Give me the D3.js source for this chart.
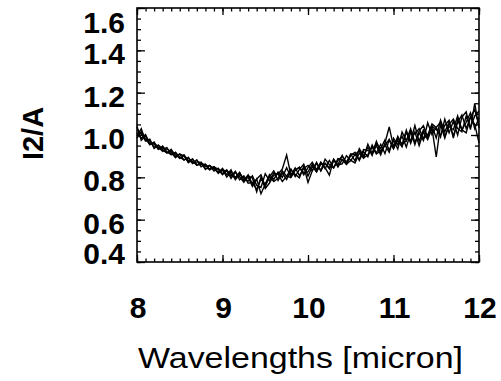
<!DOCTYPE html>
<html>
<head>
<meta charset="utf-8">
<script src="https://cdn.jsdelivr.net/npm/d3@7"></script>
<style>
  body { margin: 0; background: #fff; }
  svg { display: block; }
  .tick text { display: none; }
</style>
</head>
<body>
<div id="chart"></div>
<script>
// wavelength grid (micron)
var wavelengths = [8.00, 8.05, 8.10, 8.15, 8.20, 8.25, 8.30, 8.35, 8.40, 8.45, 8.50, 8.55, 8.60, 8.65, 8.70, 8.75, 8.80, 8.85, 8.90, 8.95,
  9.00, 9.05, 9.10, 9.15, 9.20, 9.25, 9.30, 9.35, 9.40, 9.45, 9.50, 9.55, 9.60, 9.65, 9.70, 9.75, 9.80, 9.85, 9.90, 9.95,
  10.00, 10.05, 10.10, 10.15, 10.20, 10.25, 10.30, 10.35, 10.40, 10.45, 10.50, 10.55, 10.60, 10.65, 10.70, 10.75, 10.80, 10.85, 10.90, 10.95,
  11.00, 11.05, 11.10, 11.15, 11.20, 11.25, 11.30, 11.35, 11.40, 11.45, 11.50, 11.55, 11.60, 11.65, 11.70, 11.75, 11.80, 11.85, 11.90, 11.95,
  12.00];

// I2/A spectra
var spectrumA = [1.030, 1.005, 0.972, 0.975, 0.942, 0.952, 0.933, 0.940, 0.907, 0.918, 0.890, 0.902, 0.869, 0.886, 0.858, 0.870, 0.852, 0.856, 0.830, 0.843,
  0.817, 0.836, 0.805, 0.829, 0.788, 0.807, 0.772, 0.777, 0.742, 0.792, 0.767, 0.813, 0.790, 0.825, 0.800, 0.845, 0.800, 0.834, 0.848, 0.812,
  0.846, 0.871, 0.836, 0.871, 0.841, 0.880, 0.845, 0.879, 0.899, 0.872, 0.910, 0.878, 0.935, 0.901, 0.942, 0.903, 0.960, 0.936, 0.977, 0.928,
  0.975, 0.934, 1.014, 0.973, 1.020, 0.955, 1.020, 1.044, 0.988, 1.042, 0.986, 1.070, 1.015, 1.060, 0.995, 1.060, 1.095, 1.030, 1.085, 1.120,
  1.043];
var spectrumB = [0.985, 1.015, 0.982, 0.955, 0.967, 0.932, 0.943, 0.915, 0.932, 0.898, 0.910, 0.882, 0.894, 0.866, 0.883, 0.850, 0.862, 0.836, 0.850, 0.818,
  0.837, 0.801, 0.825, 0.799, 0.823, 0.782, 0.802, 0.757, 0.792, 0.722, 0.767, 0.803, 0.830, 0.785, 0.820, 0.790, 0.835, 0.814, 0.798, 0.852,
  0.776, 0.831, 0.871, 0.831, 0.866, 0.845, 0.885, 0.849, 0.884, 0.862, 0.905, 0.918, 0.880, 0.921, 0.897, 0.953, 0.915, 0.956, 0.912, 0.978,
  0.935, 0.994, 0.954, 1.023, 0.960, 1.015, 0.950, 1.014, 0.978, 1.032, 0.896, 1.050, 0.985, 1.050, 1.075, 1.030, 1.015, 1.090, 1.035, 1.090,
  1.113];
var spectrumC = [1.040, 0.975, 0.997, 0.955, 0.962, 0.942, 0.923, 0.935, 0.917, 0.893, 0.910, 0.902, 0.874, 0.876, 0.858, 0.870, 0.837, 0.856, 0.840, 0.823,
  0.842, 0.811, 0.835, 0.789, 0.813, 0.797, 0.782, 0.807, 0.762, 0.752, 0.817, 0.783, 0.820, 0.815, 0.840, 0.905, 0.810, 0.844, 0.808, 0.842,
  0.856, 0.831, 0.866, 0.831, 0.886, 0.860, 0.845, 0.889, 0.884, 0.862, 0.910, 0.908, 0.885, 0.931, 0.927, 0.913, 0.970, 0.916, 0.952, 0.978,
  0.935, 0.974, 0.944, 1.013, 0.970, 1.045, 0.970, 1.024, 0.998, 1.052, 1.036, 0.990, 1.075, 1.010, 1.065, 1.000, 1.085, 1.110, 1.025, 1.150,
  1.033];
var spectrumD = [0.995, 1.030, 0.972, 0.980, 0.937, 0.952, 0.928, 0.915, 0.927, 0.908, 0.890, 0.907, 0.879, 0.886, 0.858, 0.860, 0.862, 0.836, 0.850, 0.838,
  0.812, 0.831, 0.795, 0.824, 0.803, 0.777, 0.807, 0.797, 0.732, 0.802, 0.747, 0.773, 0.810, 0.815, 0.780, 0.805, 0.840, 0.804, 0.838, 0.862,
  0.806, 0.851, 0.826, 0.871, 0.846, 0.810, 0.885, 0.859, 0.904, 0.862, 0.880, 0.868, 0.915, 0.891, 0.957, 0.913, 0.950, 0.906, 0.962, 1.038,
  0.945, 0.984, 0.954, 0.973, 1.030, 0.965, 1.010, 0.974, 1.058, 1.002, 1.036, 1.060, 0.995, 1.040, 1.025, 1.090, 1.025, 1.010, 1.085, 1.050,
  0.963];
var spectrumE = [1.010, 0.985, 1.002, 0.960, 0.957, 0.932, 0.948, 0.920, 0.907, 0.918, 0.895, 0.882, 0.894, 0.866, 0.873, 0.870, 0.842, 0.841, 0.850, 0.823,
  0.832, 0.831, 0.815, 0.794, 0.823, 0.787, 0.812, 0.767, 0.792, 0.812, 0.757, 0.803, 0.780, 0.795, 0.830, 0.805, 0.800, 0.834, 0.848, 0.822,
  0.826, 0.861, 0.826, 0.861, 0.866, 0.840, 0.880, 0.859, 0.864, 0.902, 0.880, 0.908, 0.925, 0.891, 0.907, 0.943, 0.910, 0.926, 0.952, 0.918,
  0.985, 0.954, 0.994, 0.943, 1.010, 1.005, 1.030, 0.984, 0.998, 1.042, 1.026, 1.000, 1.045, 1.070, 0.985, 1.070, 1.025, 1.060, 1.105, 1.030,
  1.083];

var xTicks = [8, 9, 10, 11, 12];
var yTicks = [0.4, 0.6, 0.8, 1.0, 1.2, 1.4, 1.6];

var width = 501, height = 381;
var margin = {top: 8, right: 22, bottom: 119, left: 137};
var w = width - margin.left - margin.right,
    h = height - margin.top - margin.bottom;

var svg = d3.select("#chart").append("svg")
  .attr("width", width)
  .attr("height", height);

var g = svg.append("g")
  .attr("transform", "translate(" + margin.left + "," + margin.top + ")");

var x = d3.scaleLinear().domain([8, 12]).range([0, w]);
var y = d3.scaleLinear().domain([0.4, 1.6]).range([h, 0]);

var xMinor = d3.range(80, 121).map(function(d) { return d / 10; });
var yMinor = d3.range(8, 33).map(function(d) { return d / 20; });

// inward ticks on all four sides
function addAxis(axis, transform) {
  g.append("g").attr("transform", transform).call(axis)
    .call(function(s) { s.select(".domain").remove(); })
    .selectAll("line").attr("stroke", "#000").attr("stroke-width", 1.3);
}
addAxis(d3.axisBottom(x).tickValues(xMinor).tickSize(-3.5).tickSizeOuter(0), "translate(0," + h + ")");
addAxis(d3.axisBottom(x).tickValues(xTicks).tickSize(-7).tickSizeOuter(0), "translate(0," + h + ")");
addAxis(d3.axisTop(x).tickValues(xMinor).tickSize(-3.5).tickSizeOuter(0), "translate(0,0)");
addAxis(d3.axisTop(x).tickValues(xTicks).tickSize(-7).tickSizeOuter(0), "translate(0,0)");
addAxis(d3.axisLeft(y).tickValues(yMinor).tickSize(-4).tickSizeOuter(0), "translate(0,0)");
addAxis(d3.axisLeft(y).tickValues(yTicks).tickSize(-8).tickSizeOuter(0), "translate(0,0)");
addAxis(d3.axisRight(y).tickValues(yMinor).tickSize(-4).tickSizeOuter(0), "translate(" + w + ",0)");
addAxis(d3.axisRight(y).tickValues(yTicks).tickSize(-8).tickSizeOuter(0), "translate(" + w + ",0)");

// spectra
var line = d3.line()
  .x(function(d, i) { return x(wavelengths[i]); })
  .y(function(d) { return y(d); });

[spectrumA, spectrumB, spectrumC, spectrumD, spectrumE].forEach(function(s) {
  g.append("path")
    .datum(s)
    .attr("d", line)
    .attr("fill", "none")
    .attr("stroke", "#000")
    .attr("stroke-width", 1.4);
});

// frame
g.append("rect")
  .attr("width", w).attr("height", h)
  .attr("fill", "none").attr("stroke", "#000").attr("stroke-width", 1.6);

// tick labels (end labels pulled inside, as in the original)
g.selectAll(".ylab")
  .data(yTicks)
  .enter().append("text")
  .attr("class", "ylab")
  .attr("x", -12)
  .attr("y", function(d) { return Math.max(14, Math.min(h - 9, y(d) + 3)) + 11; })
  .attr("text-anchor", "end")
  .style("font-family", "Liberation Sans, Arial, sans-serif")
  .style("font-weight", "bold")
  .style("font-size", "30px")
  .text(function(d) { return d.toFixed(1); });

g.selectAll(".xlab")
  .data(xTicks)
  .enter().append("text")
  .attr("class", "xlab")
  .attr("x", function(d) { return x(d) + 1; })
  .attr("y", h + 56)
  .attr("text-anchor", "middle")
  .style("font-family", "Liberation Sans, Arial, sans-serif")
  .style("font-weight", "bold")
  .style("font-size", "30px")
  .text(function(d) { return d; });

// axis titles
svg.append("text")
  .attr("x", 300.5)
  .attr("y", 368)
  .attr("text-anchor", "middle")
  .attr("textLength", 325)
  .attr("lengthAdjust", "spacingAndGlyphs")
  .style("font-family", "Liberation Sans, Arial, sans-serif")
  .style("font-size", "30px")
  .text("Wavelengths [micron]");

svg.append("text")
  .attr("transform", "translate(43,133.5) rotate(-90)")
  .attr("text-anchor", "middle")
  .style("font-family", "Liberation Sans, Arial, sans-serif")
  .style("font-weight", "bold")
  .style("font-size", "29px")
  .text("I2/A");
</script>
</body>
</html>
